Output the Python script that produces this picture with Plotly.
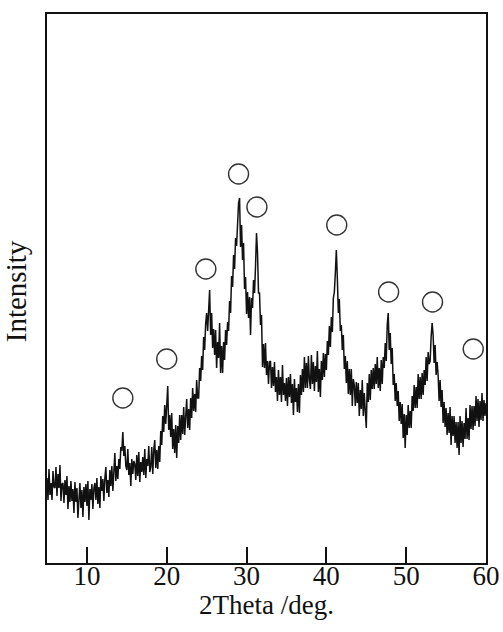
import numpy as np
import plotly.graph_objects as go

# 2Theta grid (deg): 5.000 .. 60.000 in 0.125 deg steps
two_theta_start = 5.0
two_theta_step = 0.125

# Intensity (a.u.), one row per degree (8 values each)
intensity_rows = [
    [85, 63, 94, 68, 80, 63, 92, 76],          # 5
    [75, 96, 67, 89, 75, 98, 62, 79],          # 6
    [80, 60, 83, 68, 87, 54, 77, 61],          # 7
    [82, 62, 74, 50, 81, 61, 75, 45],          # 8
    [63, 80, 55, 73, 46, 76, 61, 79],          # 9
    [57, 82, 43, 74, 63, 79, 54, 75],          # 10
    [80, 63, 85, 59, 76, 55, 87, 72],          # 11
    [84, 62, 85, 96, 70, 83, 66, 93],          # 12
    [77, 97, 72, 95, 110, 82, 97, 84],         # 13
    [104, 94, 116, 112, 131, 107, 117, 97],    # 14
    [93, 114, 88, 100, 77, 104, 89, 102],      # 15
    [99, 83, 108, 87, 111, 81, 101, 91],       # 16
    [106, 88, 114, 85, 104, 97, 117, 91],      # 17
    [96, 116, 89, 113, 123, 95, 113, 94],      # 18
    [117, 101, 132, 118, 147, 131, 158, 139],  # 19
    [160, 177, 133, 148, 126, 150, 114, 134],  # 20
    [110, 138, 105, 137, 120, 148, 123, 148],  # 21
    [129, 156, 128, 151, 164, 135, 154, 133],  # 22
    [165, 145, 175, 152, 169, 151, 183, 165],  # 23
    [165, 195, 182, 207, 193, 226, 213, 239],  # 24
    [250, 232, 262, 273, 228, 250, 215, 234],  # 25
    [208, 233, 195, 221, 205, 240, 190, 217],  # 26
    [190, 221, 203, 233, 218, 241, 232, 262],  # 27
    [250, 287, 276, 308, 294, 325, 317, 344],  # 28
    [360, 365, 316, 338, 303, 320, 274, 286],  # 29
    [249, 271, 245, 266, 228, 265, 255, 283],  # 30
    [270, 297, 330, 310, 270, 270, 238, 248],  # 31
    [196, 219, 195, 220, 188, 202, 179, 201],  # 32
    [202, 175, 196, 177, 201, 171, 186, 162],  # 33
    [193, 168, 186, 161, 198, 168, 180, 162],  # 34
    [185, 157, 186, 166, 189, 160, 179, 148],  # 35
    [184, 161, 175, 151, 179, 150, 188, 168],  # 36
    [194, 171, 206, 175, 200, 175, 207, 183],  # 37
    [174, 208, 179, 201, 172, 197, 181, 212],  # 38
    [171, 194, 166, 202, 183, 210, 186, 209],  # 39
    [193, 222, 208, 237, 216, 246, 231, 265],  # 40
    [271, 290, 313, 285, 250, 264, 232, 238],  # 41
    [213, 228, 194, 207, 180, 202, 169, 194],  # 42
    [168, 194, 157, 184, 178, 157, 181, 160],  # 43
    [180, 147, 173, 154, 183, 147, 170, 152],  # 44
    [135, 180, 161, 189, 163, 193, 174, 195],  # 45
    [174, 199, 179, 206, 175, 195, 172, 203],  # 46
    [179, 206, 195, 220, 202, 238, 250, 213],  # 47
    [230, 199, 215, 178, 189, 162, 180, 157],  # 48
    [172, 142, 161, 139, 159, 125, 149, 115],  # 49
    [148, 128, 158, 135, 152, 135, 167, 152],  # 50
    [178, 155, 176, 155, 189, 164, 186, 164],  # 51
    [190, 168, 193, 178, 206, 182, 211, 199],  # 52
    [202, 226, 240, 228, 200, 218, 188, 201],  # 53
    [188, 162, 183, 156, 173, 140, 161, 136],  # 54
    [155, 128, 150, 130, 156, 118, 147, 127],  # 55
    [147, 120, 141, 115, 141, 108, 147, 120],  # 56
    [142, 116, 140, 124, 155, 124, 145, 123],  # 57
    [158, 134, 157, 133, 157, 137, 167, 142],  # 58
    [164, 136, 162, 143, 170, 142, 163, 147],  # 59
    [160],                                     # 60
]

# Peak marker (open circle) positions
peak_theta = [14.5, 20.0, 24.9, 29.0, 31.3, 41.3, 47.8, 53.3, 58.4]
peak_marker_y = [165, 204, 294, 389, 356, 338, 271, 261, 214]

x_ticks = [10, 20, 30, 40, 50, 60]

intensity = [v for row in intensity_rows for v in row]
two_theta = [round(two_theta_start + i * two_theta_step, 3) for i in range(len(intensity))]

fig = go.Figure()
fig.add_trace(go.Scatter(
    x=two_theta, y=intensity, mode="lines",
    line=dict(color="#111111", width=1.5),
    showlegend=False, hoverinfo="skip",
))
fig.add_trace(go.Scatter(
    x=peak_theta, y=peak_marker_y, mode="markers",
    marker=dict(symbol="circle-open", size=20, color="#333333",
                line=dict(width=1.4, color="#333333")),
    showlegend=False, hoverinfo="skip",
))

font_family = "Liberation Serif, Times New Roman, serif"

fig.update_layout(
    width=503, height=632,
    margin=dict(l=47, r=17, t=14, b=69),
    paper_bgcolor="white", plot_bgcolor="white",
    font=dict(family=font_family, color="#111111", size=27),
    xaxis=dict(
        range=[5, 60], tickvals=x_ticks, ticktext=[str(t) for t in x_ticks],
        ticks="inside", ticklen=16, tickwidth=2, tickcolor="#111111",
        showline=True, linewidth=2, linecolor="#111111", mirror=True,
        showgrid=False, zeroline=False, automargin=False,
        ticklabelstandoff=-12,
        tickfont=dict(family=font_family, size=27, color="#111111"),
    ),
    yaxis=dict(
        range=[0, 549], showticklabels=False, ticks="",
        showline=True, linewidth=2, linecolor="#111111", mirror=True,
        showgrid=False, zeroline=False, automargin=False,
    ),
    annotations=[
        dict(text="2Theta /deg.", xref="paper", yref="paper", x=0.5, y=0,
             xanchor="center", yanchor="top", yshift=-25, showarrow=False,
             font=dict(family=font_family, size=27, color="#111111")),
        dict(text="Intensity", xref="paper", yref="paper", x=0, y=0.495,
             xanchor="center", yanchor="middle", xshift=-31, textangle=-90,
             showarrow=False,
             font=dict(family=font_family, size=29, color="#111111")),
    ],
)

fig.write_html("out.html")
